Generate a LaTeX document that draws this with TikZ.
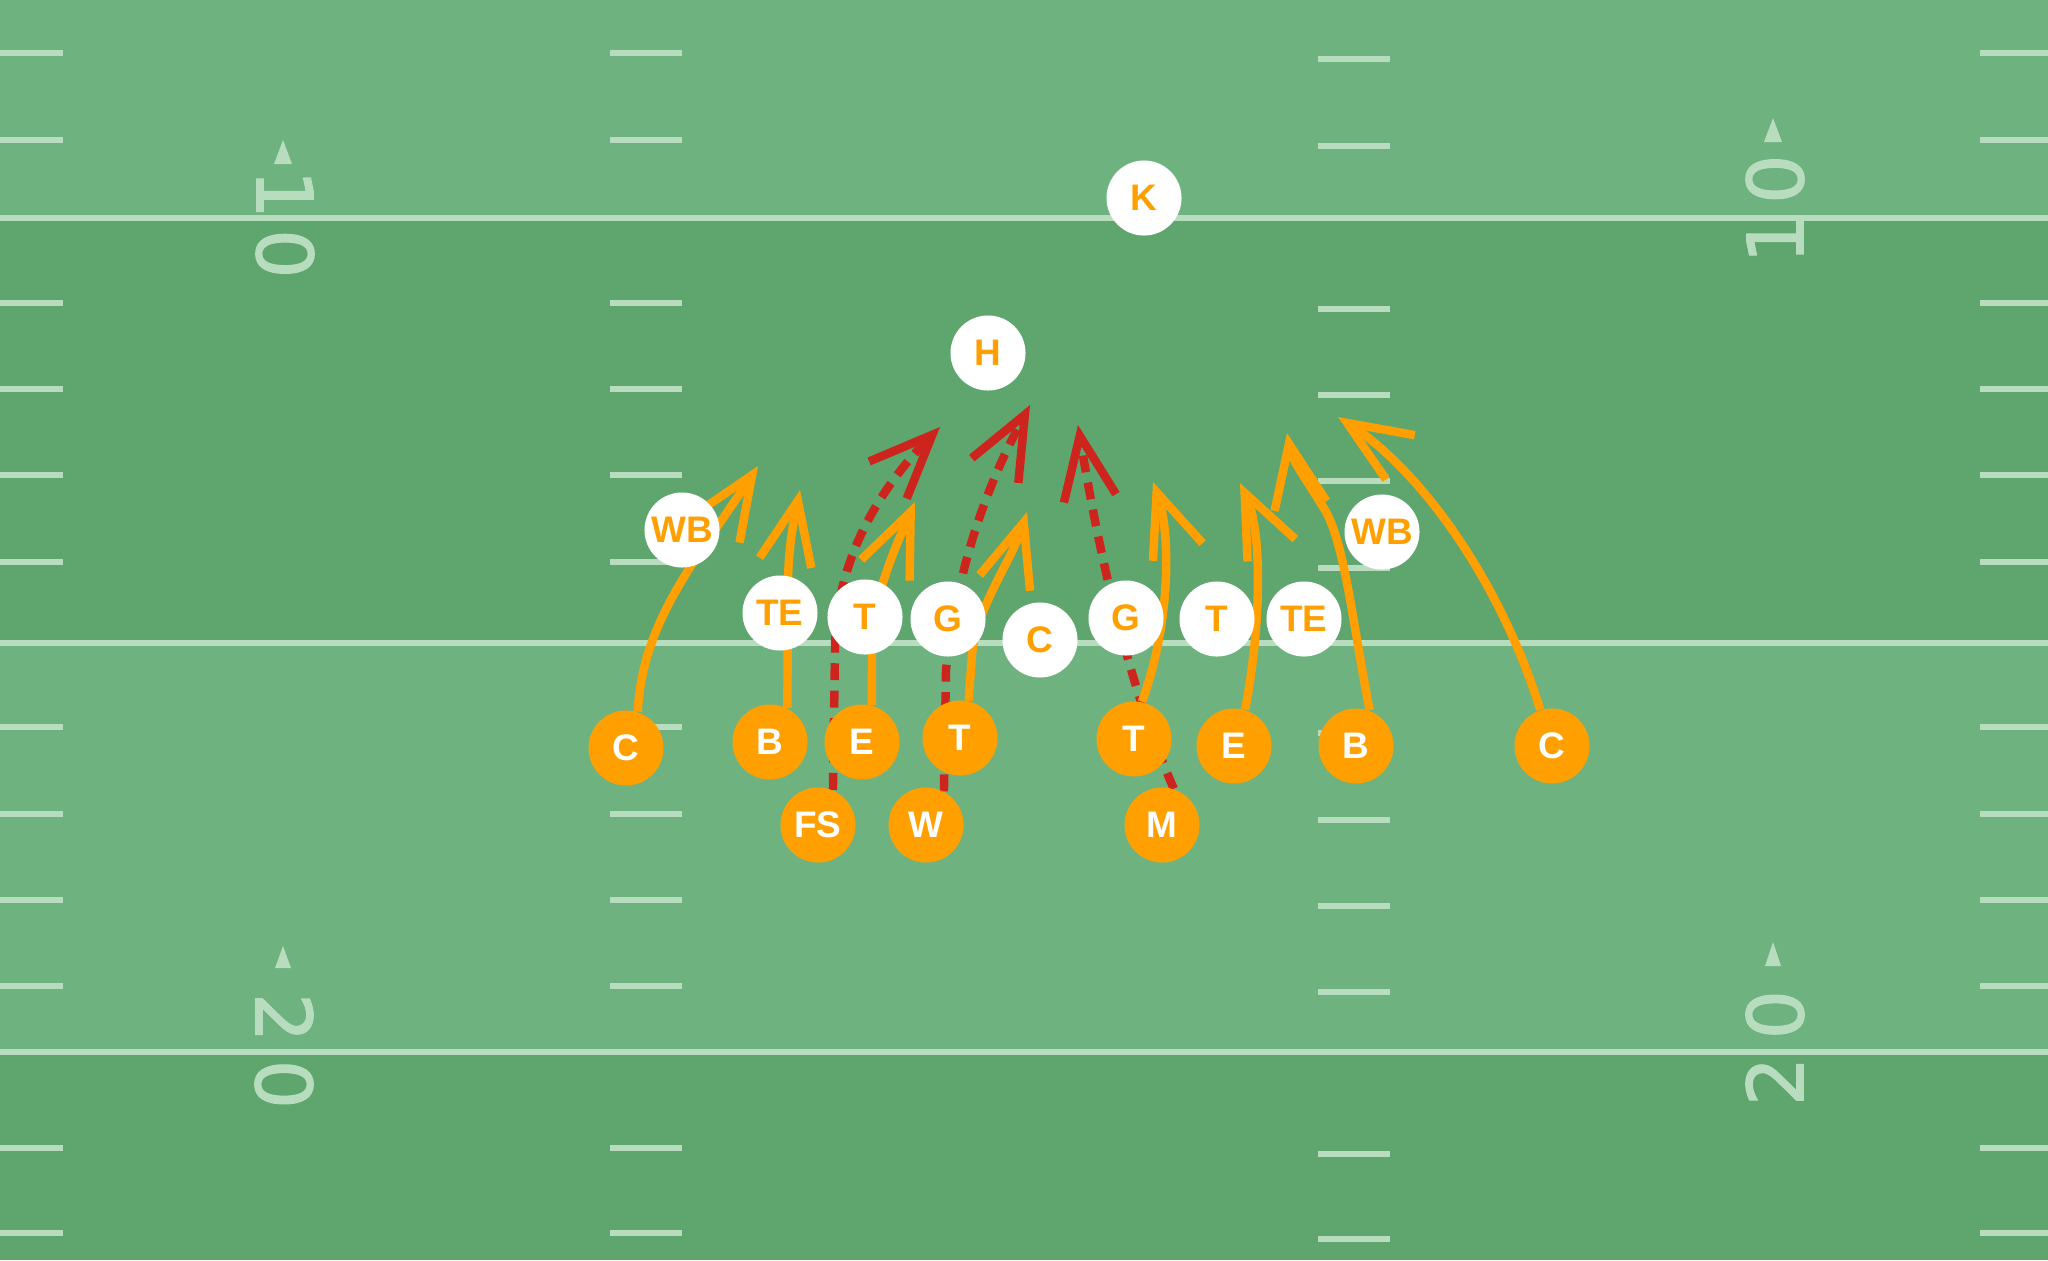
\documentclass[tikz,border=0pt]{standalone}
\usepackage{fontspec}
\setmainfont{Liberation Sans}
\newfontfamily\yardfont[FakeBold=1.6]{DejaVu Sans}
\usetikzlibrary{arrows.meta}
\definecolor{turf}{RGB}{110,178,127}
\definecolor{turfdark}{RGB}{94,166,110}
\definecolor{chalk}{RGB}{184,221,190}
\definecolor{jersey}{RGB}{255,160,0}
\definecolor{blitz}{RGB}{206,36,30}
\pgfdeclarelayer{field}
\pgfdeclarelayer{routes}
\pgfsetlayers{field,routes,main}

\begin{document}
\begin{tikzpicture}[x=0.01cm,y=-0.01cm]
\tikzstyle{kickteam}=[circle,fill=white,text=jersey,minimum size=0.75cm,inner sep=0pt,font=\fontsize{10.5}{12}\selectfont\bfseries]
\tikzstyle{rushteam}=[circle,fill=jersey,text=white,minimum size=0.75cm,inner sep=0pt,font=\fontsize{10.5}{12}\selectfont\bfseries]
\tikzstyle{route}=[draw=jersey,line width=2.4pt,-{Straight Barb[length=18pt,width=15pt]}]
\tikzstyle{blitzroute}=[draw=blitz,line width=2.4pt,dash pattern=on 4.8pt off 3pt,-{Straight Barb[length=18pt,width=15pt]}]
\tikzstyle{yardline}=[draw=chalk,line width=1.7pt]
\tikzstyle{yardnum}=[text=chalk,font=\yardfont\fontsize{22}{22}\selectfont,inner sep=0pt]

\useasboundingbox (0,0) rectangle (2048,1260);

\begin{pgfonlayer}{field}
	\fill[turf] (0,0) rectangle (2048,1260);
	\fill[turfdark] (0,218) rectangle (2048,643);
	\fill[turfdark] (0,1052) rectangle (2048,1260);
	\foreach \y in {218,643,1052}
		\draw[yardline] (0,\y) -- (2048,\y);
	\foreach \y in {53,140,303,389,475,562,727,814,900,986,1148,1233} {
		\draw[yardline] (0,\y) -- (63,\y);
		\draw[yardline] (610,\y) -- (682,\y);
		\draw[yardline] (1318,\y+6) -- (1390,\y+6);
		\draw[yardline] (1980,\y) -- (2048,\y);
	}
	\node[yardnum,rotate=-90] (tenW) at (285,224) {1\hspace{3pt}0};
	\node[yardnum,rotate=90] (tenE) at (1775,209) {1\hspace{3pt}0};
	\node[yardnum,rotate=-90] (twentyW) at (284,1051) {2\hspace{5pt}0};
	\node[yardnum,rotate=90] (twentyE) at (1775,1048) {2\hspace{5pt}0};
	\fill[chalk] (283,140) -- (292,164) -- (274,164) -- cycle;
	\fill[chalk] (1773,118) -- (1782,142) -- (1764,142) -- cycle;
	\fill[chalk] (283,946) -- (291,968) -- (275,968) -- cycle;
	\fill[chalk] (1773,942) -- (1781,966) -- (1765,966) -- cycle;
\end{pgfonlayer}

\node[kickteam] (kick) at (1144,198) {K};
\node[kickteam] (hold) at (988,353) {H};
\node[kickteam] (wingL) at (682,530) {WB};
\node[kickteam] (endL) at (780,613) {TE};
\node[kickteam] (tackL) at (865,617) {T};
\node[kickteam] (guardL) at (948,619) {G};
\node[kickteam] (center) at (1040,640) {C};
\node[kickteam] (guardR) at (1126,618) {G};
\node[kickteam] (tackR) at (1217,619) {T};
\node[kickteam] (endR) at (1304,619) {TE};
\node[kickteam] (wingR) at (1382,532) {WB};

\node[rushteam] (cornerL) at (626,748) {C};
\node[rushteam] (backL) at (770,742) {B};
\node[rushteam] (edgeL) at (862,742) {E};
\node[rushteam] (tackleL) at (960,738) {T};
\node[rushteam] (safety) at (818,825) {FS};
\node[rushteam] (will) at (926,825) {W};
\node[rushteam] (tackleR) at (1134,739) {T};
\node[rushteam] (mike) at (1162,825) {M};
\node[rushteam] (edgeR) at (1234,746) {E};
\node[rushteam] (backR) at (1356,746) {B};
\node[rushteam] (cornerR) at (1552,746) {C};

\coordinate (tipCL) at (758,466);
\coordinate (tipBL) at (800,490);
\coordinate (tipEL) at (915,502);
\coordinate (tipTL) at (1027,512);
\coordinate (tipFS) at (940,427);
\coordinate (tipW) at (1030,405);
\coordinate (tipM) at (1078,425);
\coordinate (tipTR) at (1153,482);
\coordinate (tipER) at (1240,483);
\coordinate (tipBR) at (1287,433);
\coordinate (tipCR) at (1338,417);

\begin{pgfonlayer}{routes}
	\draw[route] (cornerL.72) .. controls (642,620) and (700,555) .. (tipCL);
	\draw[route] (backL.63) -- (788,580) .. controls (789,540) and (795,515) .. (tipBL);
	\draw[route] (edgeL.75) -- (872,650) .. controls (872,600) and (892,555) .. (tipEL);
	\draw[route] (tackleL.77) -- (972,655) .. controls (975,610) and (1012,560) .. (tipTL);
	\draw[blitzroute] (safety.67) -- (835,650) .. controls (835,560) and (880,488) .. (tipFS);
	\draw[blitzroute] (will.62) -- (946,670) .. controls (958,560) and (990,480) .. (tipW);
	\draw[blitzroute] (mike.72) .. controls (1130,690) and (1100,560) .. (tipM);
	\draw[route] (tackleR.78) .. controls (1172,620) and (1170,530) .. (tipTR);
	\draw[route] (edgeR.73) .. controls (1262,620) and (1262,530) .. (tipER);
	\draw[route] (backR.69) .. controls (1352,620) and (1345,545) .. (1325,510) .. controls (1300,470) and (1292,460) .. (tipBR);
	\draw[route] (cornerR.108) .. controls (1500,580) and (1420,470) .. (tipCR);
\end{pgfonlayer}

\end{tikzpicture}
\end{document}
